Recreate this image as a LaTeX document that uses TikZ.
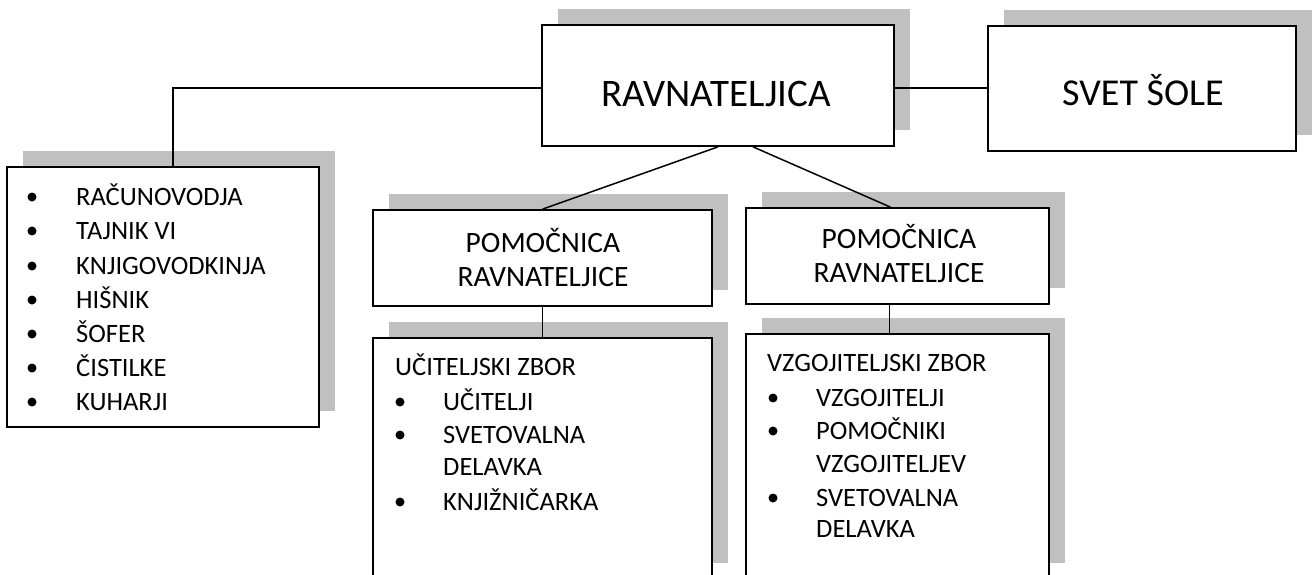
\documentclass[tikz,border=0pt]{standalone}
\usepackage{fontspec}
\setmainfont{Carlito}
\usetikzlibrary{shadows}
\definecolor{shadowgray}{RGB}{192,192,192}
\begin{document}
\begin{tikzpicture}[x=1pt,y=-1pt,
  box/.style={draw, line width=1.7pt, fill=white, inner sep=0pt,
    drop shadow={shadow xshift=16pt, shadow yshift=16pt, fill=shadowgray, opacity=1}},
  small/.style={font=\fontsize{26.5}{32}\selectfont, inner sep=0pt},
  mid/.style={font=\fontsize{29.5}{35}\selectfont, inner sep=0pt},
  big/.style={font=\fontsize{38}{45}\selectfont, inner sep=0pt},
  bul/.style={circle, fill=black, inner sep=0pt, minimum size=9pt},
  conn/.style={line width=1.5pt}]
\useasboundingbox (0,0) rectangle (1312,575);
\clip (0,0) rectangle (1312,575);

% boxes
\node[box, minimum width=352pt, minimum height=121pt] (rav) at (718,85.5) {};
\node[box, minimum width=308pt, minimum height=125pt] (svet) at (1142,88.5) {};
\node[box, minimum width=312pt, minimum height=260pt] (staff) at (163,297) {};
\node[box, minimum width=339pt, minimum height=96pt] (pl) at (542.5,258) {};
\node[box, minimum width=303pt, minimum height=96pt] (pr) at (897.5,256) {};
\node[box, minimum width=339pt, minimum height=241pt] (uc) at (542.5,458.5) {};
\node[box, minimum width=303pt, minimum height=245pt] (vz) at (897.5,456.5) {};

% titles
\node[big, anchor=base, font=\fontsize{39}{46}\selectfont] (ravt) at (716,107) {RAVNATELJICA};
\node[big, anchor=base] (svett) at (1143,106) {SVET ŠOLE};
\node[mid, anchor=base] (plt1) at (543,252) {POMOČNICA};
\node[mid, anchor=base] (plt2) at (543,286) {RAVNATELJICE};
\node[mid, anchor=base] (prt1) at (899,248) {POMOČNICA};
\node[mid, anchor=base] (prt2) at (899,282.5) {RAVNATELJICE};

% staff list
\node[bul] (sb1) at (32,197) {};
\node[bul] (sb2) at (32,231) {};
\node[bul] (sb3) at (32,266) {};
\node[bul] (sb4) at (32,300) {};
\node[bul] (sb5) at (32,334) {};
\node[bul] (sb6) at (32,368) {};
\node[bul] (sb7) at (32,402) {};
\node[small, anchor=base west] (s1) at (76,205.5) {RAČUNOVODJA};
\node[small, anchor=base west] (s2) at (76,239.5) {TAJNIK VI};
\node[small, anchor=base west] (s3) at (76,274.5) {KNJIGOVODKINJA};
\node[small, anchor=base west] (s4) at (76,308.5) {HIŠNIK};
\node[small, anchor=base west] (s5) at (76,342.5) {ŠOFER};
\node[small, anchor=base west] (s6) at (76,376.5) {ČISTILKE};
\node[small, anchor=base west] (s7) at (76,410.5) {KUHARJI};

% teachers
\node[small, anchor=base west] (uh) at (395,375.5) {UČITELJSKI ZBOR};
\node[bul] (ub1) at (400,402) {};
\node[bul] (ub2) at (400,435) {};
\node[bul] (ub3) at (400,502) {};
\node[small, anchor=base west] (u1) at (443,410.5) {UČITELJI};
\node[small, anchor=base west] (u2) at (443,443.5) {SVETOVALNA};
\node[small, anchor=base west] (u3) at (443,475.5) {DELAVKA};
\node[small, anchor=base west] (u4) at (443,510.5) {KNJIŽNIČARKA};

% educators
\node[small, anchor=base west] (vh) at (767,371.5) {VZGOJITELJSKI ZBOR};
\node[bul] (vb1) at (773,398) {};
\node[bul] (vb2) at (773,431) {};
\node[bul] (vb3) at (773,498) {};
\node[small, anchor=base west] (v1) at (816,406.5) {VZGOJITELJI};
\node[small, anchor=base west] (v2) at (816,439.5) {POMOČNIKI};
\node[small, anchor=base west] (v3) at (816,472.5) {VZGOJITELJEV};
\node[small, anchor=base west] (v4) at (816,506.5) {SVETOVALNA};
\node[small, anchor=base west] (v5) at (816,537.5) {DELAVKA};

% connectors
\coordinate (h1) at (0,88);
\coordinate (v1x) at (173,0);
\draw[conn] (rav.west |- h1) -| (staff.north -| v1x);
\draw[conn] (rav.east |- h1) -- (svet.west |- h1);
\draw[conn] (rav.south) -- (pl.north);
\draw[conn] ([xshift=35pt]rav.south) -- ([xshift=-7pt]pr.north);
\draw[conn] (pl.south) -- (uc.north);
\draw[conn] ([xshift=-8pt]pr.south) -- ([xshift=-8pt]vz.north);
\end{tikzpicture}
\end{document}
